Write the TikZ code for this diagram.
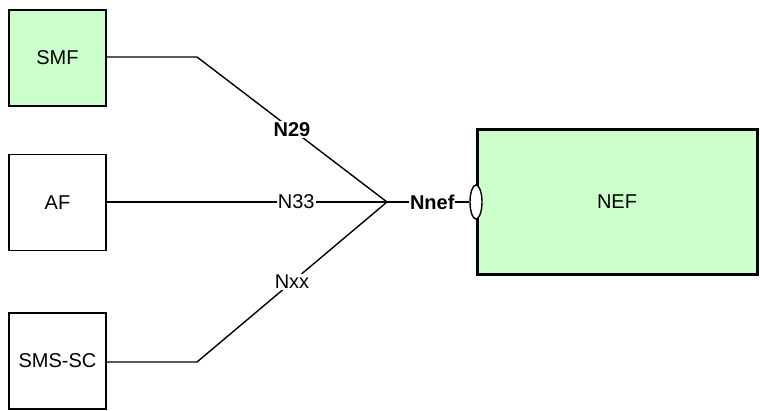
\documentclass[tikz,border=0pt]{standalone}
\usepackage{fontspec}
\setmainfont{Liberation Sans}
\usetikzlibrary{positioning}
\usetikzlibrary{shapes.geometric}
\definecolor{nfgreen}{HTML}{CCFFCC}

\begin{document}
\begin{tikzpicture}[x=1pt,y=-1pt,
			font=\fontsize{20}{24}\selectfont,
			nfbox/.style = {
				draw, line width=1.4pt, minimum width=97pt, minimum height=96pt, inner sep=0pt
			},
			reflbl/.style = {
				fill=white, inner sep=1pt
			},
			link/.style = {
				line width=1.4pt
			}]
			\useasboundingbox (0,0) rectangle (760,410);
			\node (smf) [nfbox, fill=nfgreen] at (57.5,58) {SMF};
			\node (af) [nfbox] at (57.5,202.5) {AF};
			\node (smssc) [nfbox] at (57.5,361) {SMS-SC};
			\node (nef) [draw, fill=nfgreen, line width=3pt, minimum width=280pt,
			minimum height=145pt] at (617,201.5) {NEF};
			\coordinate (hub) at (387,202);
			\coordinate (smfbend) at (197,57);
			\coordinate (smsbend) at (197,362);
			\draw [link] (smf.east |- smfbend) -- (smfbend) -- node[reflbl, font=\fontsize{20}{24}\selectfont\bfseries] (n29) {N29} (hub);
			\draw [link] (af.east |- hub) -- node[reflbl, pos=0.676] (n33) {N33} (hub);
			\draw [link] (smssc.east |- smsbend) -- (smsbend) -- node[reflbl] (nxx) {Nxx} (hub);
			\node (nnefif) [ellipse, draw, fill=white, line width=1.4pt, minimum width=12pt,
			minimum height=34pt, inner sep=0pt] at (476,202) {};
			\draw [link] (hub) -- node[reflbl, pos=0.55, font=\fontsize{20}{24}\selectfont\bfseries] (nnef) {Nnef} (nnefif.west);
		\end{tikzpicture}
\end{document}
